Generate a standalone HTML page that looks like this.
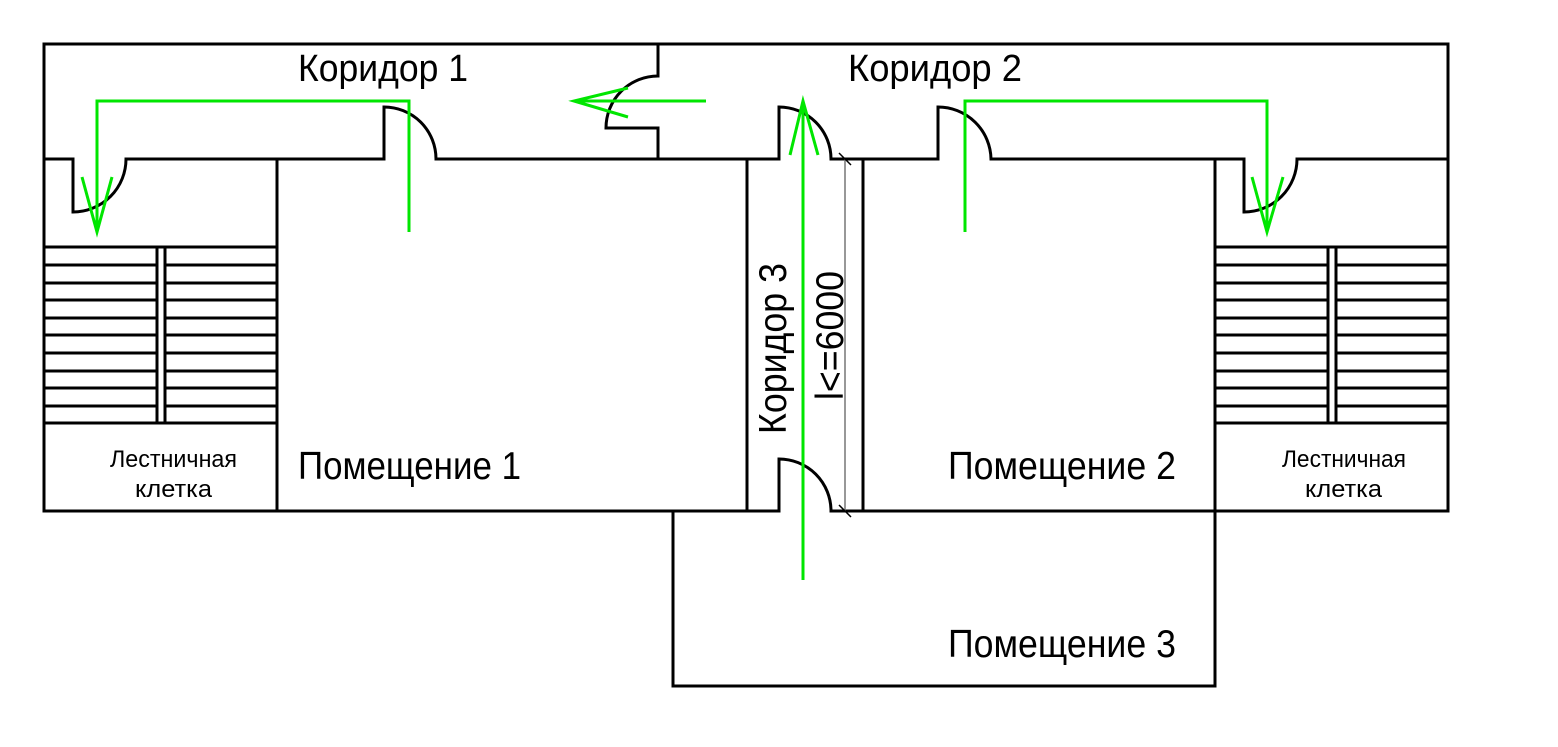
<!DOCTYPE html>
<html><head><meta charset="utf-8"><style>html,body{margin:0;padding:0;background:#fff}svg{display:block}</style></head>
<body>
<svg width="1558" height="747" viewBox="0 0 1558 747" xmlns="http://www.w3.org/2000/svg" font-family="'Liberation Sans', 'DejaVu Sans', sans-serif">
<g fill="none" stroke="#000" stroke-width="3" stroke-linecap="square">
<!-- outer -->
<path d="M44 44 H1448 V511"/>
<path d="M44 44 V511 H779 V459 A52 52 0 0 1 831 511 H1448"/>
<!-- corridor wall -->
<path d="M44 159 H73 V212 A53 53 0 0 0 126 159 H384 V107 A52 52 0 0 1 436 159 H779 V107 A52 52 0 0 1 831 159 H938 V107 A53 53 0 0 1 991 159 H1244 V212 A53 53 0 0 0 1297 159 H1448"/>
<!-- corridor divider door -->
<path d="M658 44 V76 A52 52 0 0 0 606 128 H658 V159"/>
<!-- room walls -->
<path d="M277 159 V511"/>
<path d="M747 159 V511"/>
<path d="M863 159 V511"/>
<path d="M1215 159 V511"/>
<path d="M673 511 V686 H1215 V511"/>
<!-- left stairs -->
<path d="M44 247 H277 M44 265 H157 M165 265 H277 M44 283 H157 M165 283 H277 M44 300 H157 M165 300 H277 M44 318 H157 M165 318 H277 M44 335 H157 M165 335 H277 M44 353 H157 M165 353 H277 M44 371 H157 M165 371 H277 M44 388 H157 M165 388 H277 M44 406 H157 M165 406 H277 M44 423 H277"/>
<path d="M157 247 V423 M165 247 V423"/>
<!-- right stairs -->
<path d="M1215 247 H1448 M1215 265 H1328 M1336 265 H1448 M1215 283 H1328 M1336 283 H1448 M1215 300 H1328 M1336 300 H1448 M1215 318 H1328 M1336 318 H1448 M1215 335 H1328 M1336 335 H1448 M1215 353 H1328 M1336 353 H1448 M1215 371 H1328 M1336 371 H1448 M1215 388 H1328 M1336 388 H1448 M1215 406 H1328 M1336 406 H1448 M1215 423 H1448"/>
<path d="M1328 247 V423 M1336 247 V423"/>
</g>
<!-- dimension -->
<g stroke="#777" stroke-width="1.5" fill="none">
<path d="M845 159 V511"/>
</g>
<g stroke="#000" stroke-width="1.5"><path d="M839 153 L851 165 M839 505 L851 517"/></g>
<!-- green paths -->
<g fill="none" stroke="#00e600" stroke-width="3">
<path d="M409 232 V101 H97 V232"/>
<path d="M82 177 L97 232 L112 177"/>
<path d="M706 101 H574"/>
<path d="M628 88 L574 101 L628 117"/>
<path d="M803 580 V101"/>
<path d="M790 155 L803 101 L818 155"/>
<path d="M965 232 V101 H1267 V232"/>
<path d="M1252 177 L1267 232 L1283 177"/>
</g>
<!-- text -->
<g fill="#000">
<text x="298" y="81" font-size="38" textLength="170" lengthAdjust="spacingAndGlyphs">Коридор 1</text>
<text x="848" y="81" font-size="38" textLength="174" lengthAdjust="spacingAndGlyphs">Коридор 2</text>
<text x="298" y="479" font-size="39" textLength="223" lengthAdjust="spacingAndGlyphs">Помещение 1</text>
<text x="948" y="479" font-size="39" textLength="228" lengthAdjust="spacingAndGlyphs">Помещение 2</text>
<text x="948" y="657" font-size="39" textLength="228" lengthAdjust="spacingAndGlyphs">Помещение 3</text>
<text x="110" y="467" font-size="24" textLength="127" lengthAdjust="spacingAndGlyphs">Лестничная</text>
<text x="135" y="497" font-size="24" textLength="77" lengthAdjust="spacingAndGlyphs">клетка</text>
<text x="1282" y="467" font-size="24" textLength="124" lengthAdjust="spacingAndGlyphs">Лестничная</text>
<text x="1305" y="497" font-size="24" textLength="77" lengthAdjust="spacingAndGlyphs">клетка</text>
<text transform="translate(786 434) rotate(-90)" font-size="39" textLength="171" lengthAdjust="spacingAndGlyphs">Коридор 3</text>
<text transform="translate(843 400) rotate(-90)" font-size="39" textLength="129" lengthAdjust="spacingAndGlyphs">l&lt;=6000</text>
</g>
</svg>
</body></html>
